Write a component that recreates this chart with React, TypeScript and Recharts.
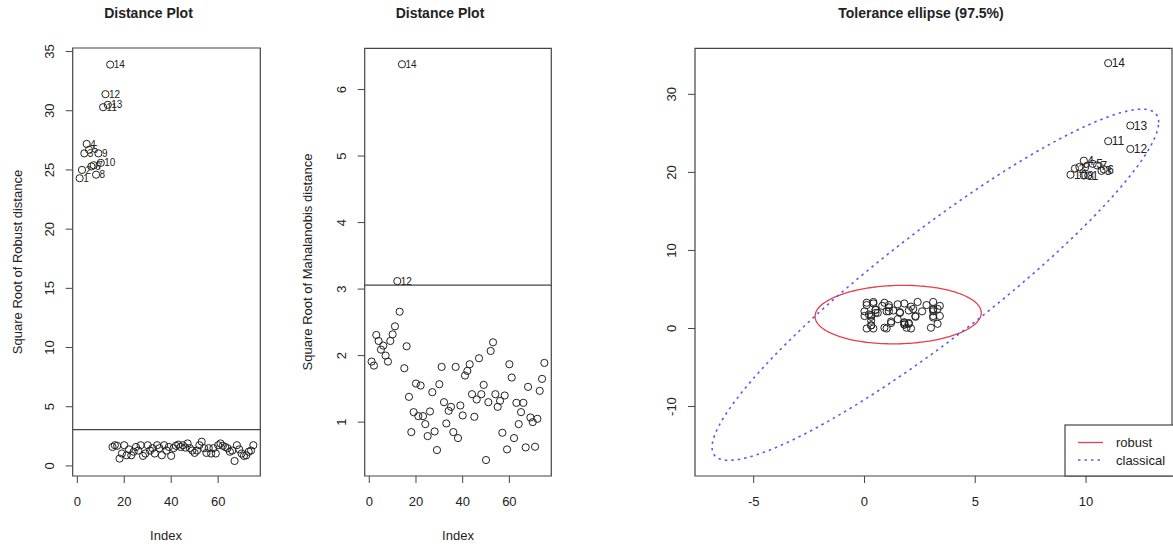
import React from 'react';
import { ScatterChart, Scatter, XAxis, YAxis, ReferenceArea, ReferenceLine } from 'recharts';

// square root of robust distance, obs 1..75
const ROBUST_DIST = [
  24.3, 25.0, 26.4, 27.2, 26.7, 25.3, 25.4, 24.6, 26.4, 25.6, 30.3, 31.4, 30.5, 33.9,
  1.6, 1.75, 1.7, 0.62, 1.05, 1.75, 0.9, 1.4, 0.9, 1.2, 1.6, 1.3, 1.75, 0.85, 1.05, 1.75,
  1.3, 1.5, 1.05, 1.75, 1.5, 0.9, 1.75, 1.3, 1.6, 0.85, 1.5, 1.7, 1.8, 1.6, 1.75, 1.55,
  1.9, 1.5, 1.3, 1.1, 1.3, 1.75, 2.05, 1.5, 1.1, 1.5, 1.05, 1.5, 1.05, 1.75, 1.9, 1.7,
  1.6, 1.5, 1.2, 1.3, 0.42, 1.75, 1.4, 1.05, 0.85, 0.9, 1.2, 1.3, 1.75,
];

// square root of Mahalanobis distance
const MAHAL_DIST = [
  1.91, 1.85, 2.31, 2.22, 2.09, 2.15, 2.0, 1.91, 2.22, 2.32, 2.44, 3.12, 2.66, 6.38,
  1.81, 2.14, 1.38, 0.85, 1.15, 1.58, 1.09, 1.55, 1.09, 0.97, 0.79, 1.16, 1.45, 0.86,
  0.58, 1.57, 1.83, 1.3, 0.98, 1.17, 1.23, 0.85, 1.83, 0.76, 1.25, 1.1, 1.7, 1.77, 1.87,
  1.42, 1.08, 1.34, 1.96, 1.42, 1.56, 0.43, 1.3, 2.07, 2.2, 1.42, 1.23, 1.32, 0.84, 1.4,
  0.59, 1.87, 1.67, 0.76, 1.29, 0.97, 1.15, 1.29, 0.62, 1.53, 1.07, 1.0, 0.63, 1.05,
  1.47, 1.65, 1.89,
];

const X1 = [
  10.1, 9.5, 10.7, 9.9, 10.3, 10.8, 10.5, 9.9, 9.7, 9.3, 11.0, 12.0, 12.0, 11.0,
  3.4, 3.1, 0.0, 2.3, 0.8, 3.1, 2.6, 0.4, 2.0, 1.3, 1.0, 0.9, 3.3, 1.8, 1.2, 1.2, 3.1,
  0.5, 1.5, 0.4, 3.1, 1.1, 0.1, 1.5, 2.1, 0.5, 3.4, 0.3, 0.1, 1.8, 1.9, 1.8, 3.0, 3.1,
  3.1, 2.1, 2.3, 3.3, 0.3, 1.1, 0.5, 1.8, 1.8, 2.4, 1.6, 0.3, 0.4, 0.9, 1.1, 2.8, 2.0,
  0.2, 1.6, 0.1, 2.0, 1.0, 2.2, 0.6, 0.3, 0.0, 0.3,
];
const X2 = [
  19.6, 20.5, 20.2, 21.5, 21.1, 20.4, 20.9, 19.6, 20.7, 19.7, 24.0, 23.0, 26.0, 34.0,
  2.9, 2.2, 1.6, 1.6, 2.9, 3.4, 2.2, 3.2, 2.3, 2.3, 0.0, 3.3, 2.5, 0.8, 0.9, 0.7, 1.4,
  2.4, 3.1, 0.0, 2.4, 2.2, 3.0, 1.2, 0.0, 2.0, 1.6, 1.0, 3.3, 0.5, 0.1, 0.5, 0.1, 1.6,
  2.5, 2.8, 1.5, 0.6, 0.4, 3.0, 2.4, 3.2, 0.7, 3.4, 2.1, 1.5, 3.4, 0.1, 2.7, 3.0, 0.7,
  1.8, 2.0, 0.0, 0.6, 2.2, 2.5, 2.0, 1.7, 2.2, 0.4,
];

const CUTOFF = 3.06;
const INDEX_TICKS = [0, 20, 40, 60];
const ROBUST_TICKS = [0, 5, 10, 15, 20, 25, 30, 35];
const MAHAL_TICKS = [1, 2, 3, 4, 5, 6];
const ELL_X_TICKS = [-5, 0, 5, 10];
const ELL_Y_TICKS = [-10, 0, 10, 20, 30];

// tolerance ellipses: centre, half extents along x / y, correlation
const ROBUST_ELLIPSE = { cx: 1.52, cy: 1.78, ax: 3.75, ay: 3.75, rho: 0.06 };
const CLASSICAL_ELLIPSE = { cx: 3.2, cy: 5.6, ax: 10.08, ay: 22.5, rho: 0.925 };

const ink = '#222';
const boxColor = '#444';
const font = '"Liberation Sans", Arial, Helvetica, sans-serif';

const outline = (e: typeof ROBUST_ELLIPSE) => {
  const pts = [];
  for (let k = 0; k <= 180; k++) {
    const t = (2 * Math.PI * k) / 180;
    pts.push({
      x: e.cx + e.ax * Math.cos(t),
      y: e.cy + e.ay * (e.rho * Math.cos(t) + Math.sqrt(1 - e.rho * e.rho) * Math.sin(t)),
    });
  }
  return pts;
};

const robustPts = ROBUST_DIST.map((d, i) => ({ x: i + 1, y: d, label: d > CUTOFF ? String(i + 1) : '' }));
const mahalPts = MAHAL_DIST.map((d, i) => ({ x: i + 1, y: d, label: d > CUTOFF ? String(i + 1) : '' }));
const ellPts = X1.map((v, i) => ({ x: v, y: X2[i], label: ROBUST_DIST[i] > CUTOFF ? String(i + 1) : '' }));

const makeDot = (labelSize: number) => (props: any) => {
  const { cx, cy, payload } = props;
  if (cx == null || cy == null) return <g />;
  return (
    <g>
      <circle cx={cx} cy={cy} r={3.6} fill="none" stroke={ink} strokeWidth={1} />
      {payload.label ? (
        <text x={cx + 3.5} y={cy + labelSize * 0.36} fontSize={labelSize} fill={ink} fontFamily={font}>
          {payload.label}
        </text>
      ) : null}
    </g>
  );
};

const XTick = (props: any) => {
  const { x, y, payload } = props;
  return (
    <text x={x} y={y + 21} textAnchor="middle" fontSize={13} fill={ink} fontFamily={font}>
      {payload.value}
    </text>
  );
};

const YTick = (props: any) => {
  const { x, y, payload } = props;
  const cx = x - 14.7;
  return (
    <text x={cx} y={y} dy="0.35em" transform={`rotate(-90 ${cx} ${y})`} textAnchor="middle" fontSize={13} fill={ink} fontFamily={font}>
      {payload.value}
    </text>
  );
};

interface PanelProps {
  left: number;
  width: number;
  margin: { top: number; right: number; bottom: number; left: number };
  xDomain: [number, number];
  yDomain: [number, number];
  xTicks: number[];
  yTicks: number[];
  children: React.ReactNode;
}

const Panel = ({ left, width, margin, xDomain, yDomain, xTicks, yTicks, children }: PanelProps) => (
  <div style={{ position: 'absolute', left, top: 0 }}>
    <ScatterChart width={width} height={548} margin={margin}>
      <XAxis
        type="number"
        dataKey="x"
        domain={xDomain}
        ticks={xTicks}
        allowDataOverflow
        height={40}
        axisLine={false}
        tickSize={7}
        tickLine={{ stroke: boxColor }}
        tick={<XTick />}
        interval={0}
      />
      <YAxis
        type="number"
        dataKey="y"
        domain={yDomain}
        ticks={yTicks}
        allowDataOverflow
        width={40}
        axisLine={false}
        tickSize={7}
        tickLine={{ stroke: boxColor }}
        tick={<YTick />}
        interval={0}
      />
      <ReferenceArea x1={xDomain[0]} x2={xDomain[1]} y1={yDomain[0]} y2={yDomain[1]} fill="none" stroke={boxColor} strokeWidth={1.2} fillOpacity={0} />
      {children}
    </ScatterChart>
  </div>
);

export default function App() {
  return (
    <div style={{ position: 'absolute', left: 0, top: 0, width: 1173, height: 548, background: '#fff', overflow: 'hidden', fontFamily: font }}>
      <Panel
        left={0}
        width={290}
        margin={{ top: 48, right: 29.7, bottom: 32, left: 32.7 }}
        xDomain={[-1.96, 77.96]}
        yDomain={[-0.85, 35.3]}
        xTicks={INDEX_TICKS}
        yTicks={ROBUST_TICKS}
      >
        <ReferenceLine y={CUTOFF} stroke={boxColor} strokeWidth={1.2} />
        <Scatter data={robustPts} shape={makeDot(10)} isAnimationActive={false} />
      </Panel>

      <Panel
        left={290}
        width={290}
        margin={{ top: 48.3, right: 28.7, bottom: 32, left: 34.7 }}
        xDomain={[-1.96, 77.96]}
        yDomain={[0.19, 6.62]}
        xTicks={INDEX_TICKS}
        yTicks={MAHAL_TICKS}
      >
        <ReferenceLine y={CUTOFF} stroke={boxColor} strokeWidth={1.2} />
        <Scatter data={mahalPts} shape={makeDot(10)} isAnimationActive={false} />
      </Panel>

      <Panel
        left={600}
        width={573}
        margin={{ top: 48.3, right: 1, bottom: 32, left: 55 }}
        xDomain={[-7.65, 13.88]}
        yDomain={[-18.9, 35.9]}
        xTicks={ELL_X_TICKS}
        yTicks={ELL_Y_TICKS}
      >
        <Scatter
          data={outline(ROBUST_ELLIPSE)}
          fill="#e4404a"
          line={{ stroke: '#e4404a', strokeWidth: 1.3 }}
          lineJointType="linear"
          shape={() => <g />}
          isAnimationActive={false}
        />
        <Scatter
          data={outline(CLASSICAL_ELLIPSE)}
          fill="#5a5af0"
          line={{ stroke: '#5a5af0', strokeWidth: 1.6, strokeDasharray: '2.5 4' }}
          lineJointType="linear"
          shape={() => <g />}
          isAnimationActive={false}
        />
        <Scatter data={ellPts} shape={makeDot(12)} isAnimationActive={false} />
      </Panel>

      <svg width={1173} height={548} style={{ position: 'absolute', left: 0, top: 0, pointerEvents: 'none' }}>
        <g fontFamily={font} fill={ink}>
          <text x={148.5} y={18} textAnchor="middle" fontSize={14} fontWeight="bold">Distance Plot</text>
          <text x={440} y={18} textAnchor="middle" fontSize={14} fontWeight="bold">Distance Plot</text>
          <text x={921} y={18} textAnchor="middle" fontSize={14} fontWeight="bold">Tolerance ellipse (97.5%)</text>

          <text x={166} y={540} textAnchor="middle" fontSize={13}>Index</text>
          <text x={458} y={540} textAnchor="middle" fontSize={13}>Index</text>

          <text x={17} y={262} dy="0.35em" transform="rotate(-90 17 262)" textAnchor="middle" fontSize={13}>
            Square Root of Robust distance
          </text>
          <text x={307} y={262} dy="0.35em" transform="rotate(-90 307 262)" textAnchor="middle" fontSize={13}>
            Square Root of Mahalanobis distance
          </text>
        </g>

        <g>
          <rect x={1065} y={425} width={120} height={51} fill="#fff" stroke={boxColor} strokeWidth={1.2} />
          <line x1={1078} y1={442.5} x2={1103} y2={442.5} stroke="#e4404a" strokeWidth={1.3} />
          <line x1={1078} y1={460} x2={1103} y2={460} stroke="#5a5af0" strokeWidth={1.6} strokeDasharray="2.5 4" />
          <text x={1116} y={447} fontSize={13} fill={ink} fontFamily={font}>robust</text>
          <text x={1116} y={464.5} fontSize={13} fill={ink} fontFamily={font}>classical</text>
        </g>
      </svg>
    </div>
  );
}
